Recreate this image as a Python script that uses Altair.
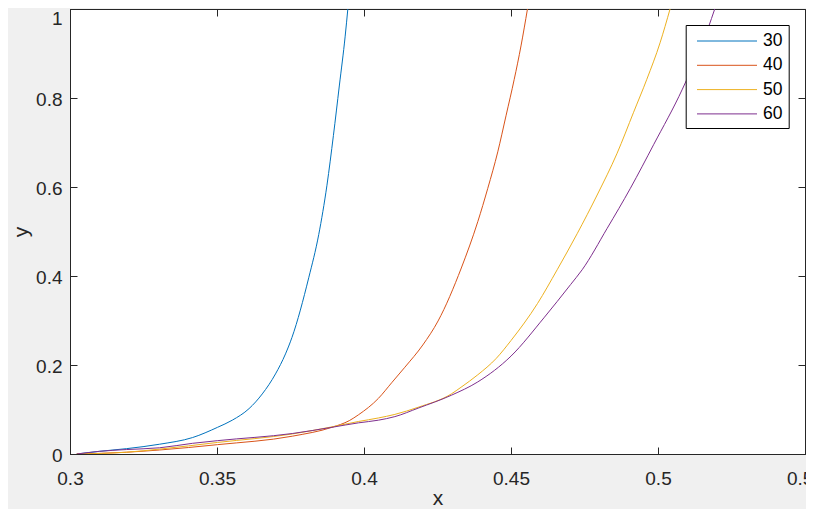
import altair as alt
import pandas as pd

# ---- data ----
series_names = ["30", "40", "50", "60"]
colors = ["#0072BD", "#D95319", "#EDB120", "#7E2F8E"]

x30 = [0.3023, 0.3100, 0.3192, 0.3305, 0.3417, 0.3502, 0.3552, 0.3609, 0.3654, 0.3699,
       0.3733, 0.3755, 0.3812, 0.3846, 0.3874, 0.3896, 0.3916, 0.3936, 0.3945]
y30 = [0.000, 0.006, 0.012, 0.022, 0.037, 0.060, 0.076, 0.102, 0.135, 0.180,
       0.225, 0.262, 0.396, 0.493, 0.604, 0.716, 0.827, 0.939, 1.000]

x40 = [0.3023, 0.3192, 0.3305, 0.3502, 0.3756, 0.3891, 0.3950, 0.3981, 0.4049, 0.4094,
       0.4139, 0.4200, 0.4252, 0.4331, 0.4387, 0.4421, 0.4455, 0.4483, 0.4511, 0.4534, 0.4556]
y40 = [0.000, 0.004, 0.009, 0.021, 0.040, 0.060, 0.075, 0.088, 0.125, 0.160,
       0.195, 0.245, 0.299, 0.418, 0.522, 0.597, 0.679, 0.760, 0.842, 0.917, 1.000]

x50 = [0.3023, 0.3192, 0.3305, 0.3502, 0.3756, 0.3891, 0.3981, 0.4049, 0.4105, 0.4184,
       0.4297, 0.4330, 0.4387, 0.4450, 0.4500, 0.4590, 0.4657, 0.4725, 0.4793, 0.4861,
       0.4917, 0.4962, 0.5007, 0.5041]
y50 = [0.000, 0.004, 0.011, 0.026, 0.045, 0.061, 0.073, 0.081, 0.089, 0.105,
       0.135, 0.150, 0.178, 0.215, 0.255, 0.338, 0.414, 0.495, 0.582, 0.676,
       0.768, 0.842, 0.924, 1.000]

x60 = [0.3023, 0.3100, 0.3192, 0.3305, 0.3417, 0.3502, 0.3756, 0.3891, 0.3981, 0.4049,
       0.4105, 0.4184, 0.4297, 0.4387, 0.4500, 0.4612, 0.4703, 0.4742, 0.4827, 0.4906,
       0.4985, 0.5083, 0.5171, 0.5193]
y60 = [0.000, 0.006, 0.010, 0.014, 0.024, 0.030, 0.046, 0.060, 0.070, 0.076,
       0.084, 0.103, 0.132, 0.162, 0.220, 0.306, 0.381, 0.414, 0.507, 0.597,
       0.695, 0.820, 0.958, 1.000]

x_ticks = [0.3, 0.35, 0.4, 0.45, 0.5, 0.55]
y_ticks = [0, 0.2, 0.4, 0.6, 0.8, 1]

rows = []
for name, xs, ys in zip(series_names, [x30, x40, x50, x60], [y30, y40, y50, y60]):
    for i, (a, b) in enumerate(zip(xs, ys)):
        rows.append({"x": a, "y": b, "s": name, "order": i})
df = pd.DataFrame(rows)

W, H = 735, 445
TXT = "#262626"
FONT = "Liberation Sans"
inward = alt.ExprRef(expr="-7")

xscale = alt.Scale(domain=[0.3, 0.55], nice=False, zero=False)
yscale = alt.Scale(domain=[0, 1], nice=False, zero=False)

lines = alt.Chart(df).mark_line(strokeWidth=1, clip=True, interpolate="monotone").encode(
    x=alt.X("x:Q", scale=xscale,
            axis=alt.Axis(orient="bottom", values=x_ticks, format=".2~f", labelFlush=False,
                          tickSize=inward, labelPadding=22, title="x",
                          titleX=W / 2, titleY=50, titleBaseline="alphabetic",
                          titleAlign="center")),
    y=alt.Y("y:Q", scale=yscale,
            axis=alt.Axis(orient="left", values=y_ticks, format=".1~f",
                          tickSize=inward, labelPadding=15,
                          labelOffset=alt.ExprRef(expr="datum.value == 1 ? 9 : 1.5"),
                          title="y",
                          titleX=-43, titleY=H / 2, titleAngle=270,
                          titleBaseline="alphabetic", titleAlign="center")),
    color=alt.Color("s:N", scale=alt.Scale(domain=series_names, range=colors),
                    legend=alt.Legend(orient="none", legendX=615.7, legendY=16, title=None,
                                      symbolType="M-3,0H3", symbolSize=400,
                                      symbolStrokeWidth=1, symbolOffset=25.3,
                                      labelOffset=25.5, labelFont=FONT, labelFontSize=17.5,
                                      labelColor="black", padding=5.5, strokeColor="black",
                                      fillColor="white", rowPadding=5.3)),
    order="order:Q",
)

frame = alt.Chart(df).mark_line(opacity=0).encode(
    x=alt.X("x:Q", scale=xscale,
            axis=alt.Axis(orient="top", values=x_ticks, labels=False, domain=False,
                          tickSize=inward, title=None)),
    y=alt.Y("y:Q", scale=yscale,
            axis=alt.Axis(orient="right", values=y_ticks, labels=False, domain=False,
                          tickSize=inward, title=None)),
    detail="s:N",
)

chart = alt.layer(lines, frame).resolve_axis(x="independent", y="independent").properties(
    width=W, height=H,
    autosize=alt.AutoSizeParams(type="none"),
    padding={"left": 62, "top": 1, "right": 1, "bottom": 55},
    background="#f0f0f0",
).configure_view(
    fill="white", stroke=TXT, strokeWidth=1
).configure_axis(
    domainColor=TXT, tickColor=TXT, labelColor=TXT, titleColor=TXT,
    labelFont=FONT, titleFont=FONT, labelFontSize=19, titleFontSize=21,
    titleFontWeight="normal", grid=False, tickWidth=1, domainWidth=1,
)

chart.save("out.html", embed_options={"renderer": "svg", "actions": False})
